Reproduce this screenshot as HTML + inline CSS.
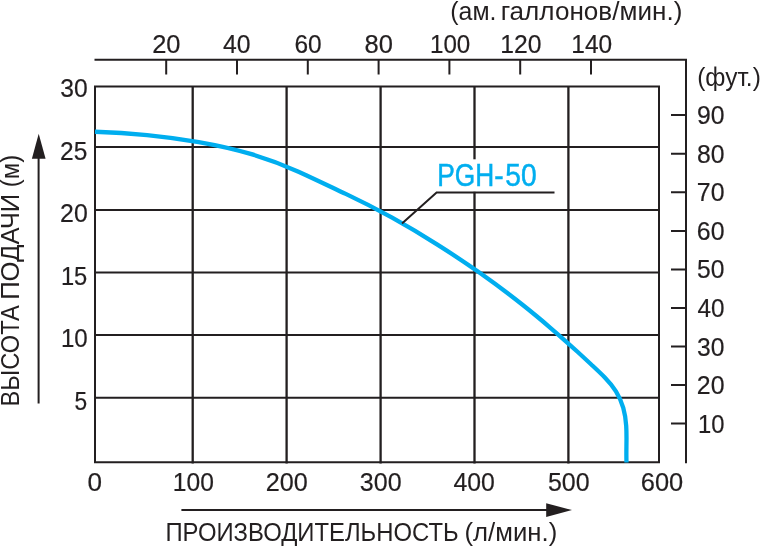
<!DOCTYPE html>
<html lang="ru">
<head>
<meta charset="utf-8">
<title>PGH-50</title>
<style>
html,body{margin:0;padding:0;background:#fff;}
body{width:760px;height:547px;overflow:hidden;}
svg{display:block;}
text{font-family:"Liberation Sans",sans-serif;fill:#231f20;}
.d text{stroke:#231f20;stroke-width:.2px;}
text.b{fill:#00aeef;stroke:#00aeef;stroke-width:.5px;}
.g{stroke:#231f20;stroke-width:2;fill:none;}
</style>
</head>
<body>
<svg width="760" height="547" viewBox="0 0 760 547">
<rect width="760" height="547" fill="#fff"/>
<g class="g">
<path d="M95 86.6H659V462.3H95Z"/>
<path stroke-width="2.3" d="M192.7 86V463.6M286.6 86V463.6M380.6 86V463.6M474.5 86V463.6M568.4 86V463.6"/>
<path d="M95 147H659M95 209.9H659M95 272.4H659M95 334.9H659M95 397.8H659"/>
<path d="M94.5 59.8H686V463.2"/>
<path d="M166.2 60V74.4M237 60V74.4M307.8 60V74.4M378.6 60V74.4M449.4 60V74.4M520.2 60V74.4M591 60V74.4"/>
<path d="M671 115H686M671 153.7H686M671 192.3H686M671 230.9H686M671 269.4H686M671 308H686M671 346.5H686M671 385H686M671 423.5H686"/>
</g>
<rect x="436" y="159.3" width="119" height="32.5" fill="#fff"/>
<path d="M95.00 131.74C112.40 132.30 129.76 133.40 147.06 135.11C164.35 136.83 181.59 139.15 198.74 142.15C215.89 145.16 232.94 148.88 249.64 153.69C266.34 158.50 282.65 164.53 298.49 171.74C314.32 178.95 330.02 186.52 345.74 193.92C361.47 201.31 376.91 209.27 392.11 217.72C407.30 226.17 422.25 235.08 436.98 244.36C451.71 253.64 466.21 263.30 480.42 273.33C494.64 283.36 508.58 293.77 522.19 304.55C526.97 308.33 531.70 312.16 536.40 316.03C541.09 319.90 545.74 323.82 550.36 327.77C554.98 331.73 559.57 335.73 564.13 339.77C568.70 343.81 573.23 347.89 577.76 352.01C582.28 356.12 586.78 360.28 591.27 364.46C595.76 368.65 600.31 372.83 604.57 377.22C608.82 381.61 612.76 386.21 615.96 391.29C619.16 396.37 621.59 401.97 623.27 407.82C624.94 413.67 625.80 419.76 626.20 425.92C626.59 432.07 626.54 438.28 626.45 444.42C626.37 450.55 626.25 456.61 626.51 462.53" fill="none" stroke="#00aeef" stroke-width="4.3"/>
<path class="g" d="M402 223.6L436.6 192.6H554.5"/>
<path class="g" d="M38.6 403.5V150"/>
<path d="M38.7 133.7L31.9 158.8H45.6Z" fill="#231f20"/>
<path class="g" d="M181.4 510.1H550"/>
<path d="M572 510.1L546.2 503.3V516.9Z" fill="#231f20"/>
<g class="d">
<text x="152.13" y="53.00" font-size="25.4" textLength="28.32" lengthAdjust="spacingAndGlyphs">20</text>
<text x="223.08" y="53.00" font-size="25.4" textLength="27.54" lengthAdjust="spacingAndGlyphs">40</text>
<text x="294.38" y="53.00" font-size="25.4" textLength="27.24" lengthAdjust="spacingAndGlyphs">60</text>
<text x="364.45" y="53.00" font-size="25.4" textLength="28.40" lengthAdjust="spacingAndGlyphs">80</text>
<text x="429.99" y="53.00" font-size="25.4" textLength="40.34" lengthAdjust="spacingAndGlyphs">100</text>
<text x="500.25" y="53.00" font-size="25.4" textLength="41.20" lengthAdjust="spacingAndGlyphs">120</text>
<text x="571.36" y="53.00" font-size="25.4" textLength="40.88" lengthAdjust="spacingAndGlyphs">140</text>
<text x="60.31" y="96.70" font-size="25.4" textLength="27.41" lengthAdjust="spacingAndGlyphs">30</text>
<text x="60.07" y="160.10" font-size="25.4" textLength="27.26" lengthAdjust="spacingAndGlyphs">25</text>
<text x="60.06" y="222.00" font-size="25.4" textLength="27.67" lengthAdjust="spacingAndGlyphs">20</text>
<text x="60.92" y="284.80" font-size="25.4" textLength="26.38" lengthAdjust="spacingAndGlyphs">15</text>
<text x="60.89" y="346.80" font-size="25.4" textLength="26.81" lengthAdjust="spacingAndGlyphs">10</text>
<text x="74.59" y="410.10" font-size="25.4" textLength="12.65" lengthAdjust="spacingAndGlyphs">5</text>
<text x="87.56" y="490.90" font-size="25.4" textLength="14.52" lengthAdjust="spacingAndGlyphs">0</text>
<text x="172.75" y="490.90" font-size="25.4" textLength="41.10" lengthAdjust="spacingAndGlyphs">100</text>
<text x="265.84" y="490.90" font-size="25.4" textLength="42.03" lengthAdjust="spacingAndGlyphs">200</text>
<text x="359.80" y="490.90" font-size="25.4" textLength="41.77" lengthAdjust="spacingAndGlyphs">300</text>
<text x="453.48" y="490.90" font-size="25.4" textLength="41.48" lengthAdjust="spacingAndGlyphs">400</text>
<text x="547.90" y="490.90" font-size="25.4" textLength="41.66" lengthAdjust="spacingAndGlyphs">500</text>
<text x="640.83" y="490.90" font-size="25.4" textLength="42.45" lengthAdjust="spacingAndGlyphs">600</text>
<text x="696.99" y="123.60" font-size="25.4" textLength="27.54" lengthAdjust="spacingAndGlyphs">90</text>
<text x="696.99" y="162.70" font-size="25.4" textLength="27.54" lengthAdjust="spacingAndGlyphs">80</text>
<text x="696.86" y="201.30" font-size="25.4" textLength="27.67" lengthAdjust="spacingAndGlyphs">70</text>
<text x="696.86" y="239.90" font-size="25.4" textLength="27.67" lengthAdjust="spacingAndGlyphs">60</text>
<text x="697.11" y="278.40" font-size="25.4" textLength="27.41" lengthAdjust="spacingAndGlyphs">50</text>
<text x="697.49" y="317.00" font-size="25.4" textLength="27.01" lengthAdjust="spacingAndGlyphs">40</text>
<text x="697.11" y="355.50" font-size="25.4" textLength="27.41" lengthAdjust="spacingAndGlyphs">30</text>
<text x="696.86" y="394.00" font-size="25.4" textLength="27.67" lengthAdjust="spacingAndGlyphs">20</text>
<text x="698.01" y="432.50" font-size="25.4" textLength="26.47" lengthAdjust="spacingAndGlyphs">10</text>
</g>
<text y="19.80" font-size="24.9"><tspan x="450.31" textLength="46.12" lengthAdjust="spacingAndGlyphs">(ам.</tspan> <tspan x="500.67" textLength="181.69" lengthAdjust="spacingAndGlyphs">галлонов/мин.)</tspan></text>
<text x="697.13" y="85.80" font-size="24.9" textLength="63.70" lengthAdjust="spacingAndGlyphs">(фут.)</text>
<text y="541.30" font-size="26.2"><tspan x="165.39" textLength="293.33" lengthAdjust="spacingAndGlyphs">ПРОИЗВОДИТЕЛЬНОСТЬ</tspan> <tspan x="464.56" textLength="92.68" lengthAdjust="spacingAndGlyphs">(л/мин.)</tspan></text>
<text transform="translate(18.90 405.00) rotate(-90)" y="0.00" font-size="26.4"><tspan x="-1.60" textLength="101.31" lengthAdjust="spacingAndGlyphs">ВЫСОТА</tspan> <tspan x="105.14" textLength="106.14" lengthAdjust="spacingAndGlyphs">ПОДАЧИ</tspan> <tspan x="217.86" textLength="32.46" lengthAdjust="spacingAndGlyphs">(м)</tspan></text>
<text class="b" y="186.20" font-size="30.8"><tspan x="437.20" textLength="56.96" lengthAdjust="spacingAndGlyphs">PGH</tspan><tspan x="494.13" textLength="9.38" lengthAdjust="spacingAndGlyphs">-</tspan><tspan x="505.37" textLength="31.38" lengthAdjust="spacingAndGlyphs">50</tspan></text>
</svg>
</body>
</html>
